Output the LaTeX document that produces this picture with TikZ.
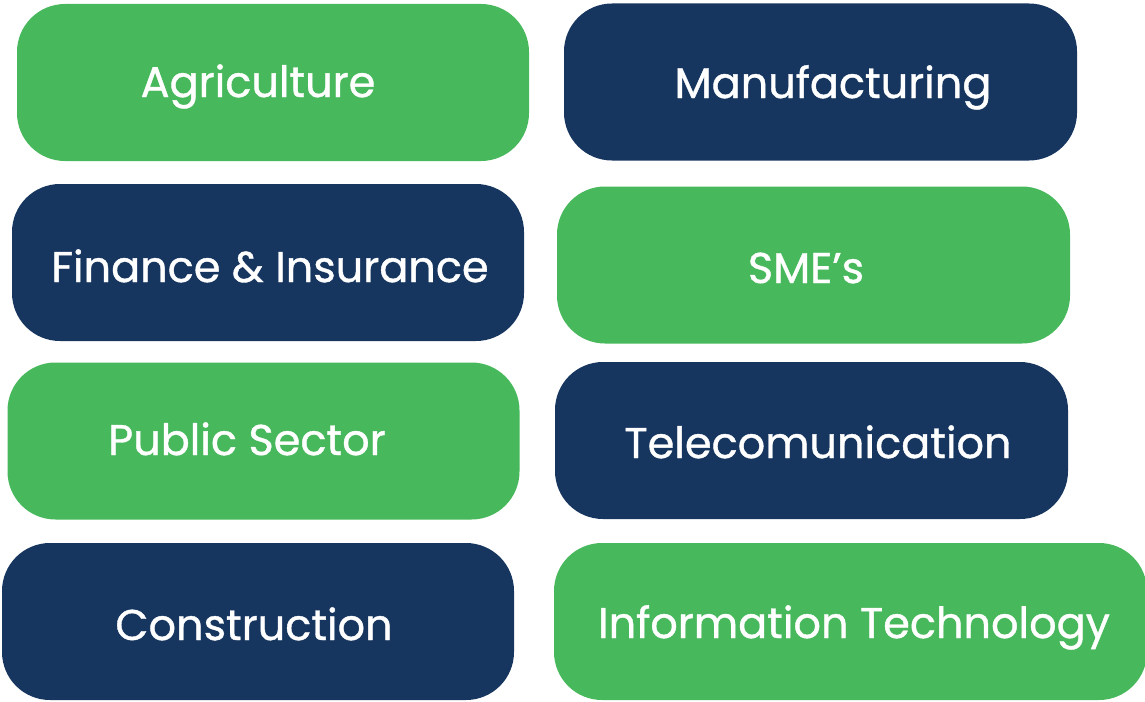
\documentclass[tikz,border=0pt]{standalone}
\usepackage{fontspec}
\setmainfont{Poppins}[FakeBold=0.9]
\usetikzlibrary{positioning}
\definecolor{secgreen}{HTML}{48B85C}
\definecolor{secnavy}{HTML}{17365F}

\begin{document}
\begin{tikzpicture}[x=1pt, y=-1pt, font=\fontsize{43}{50}\selectfont]
	\tikzstyle{tile}=[rectangle, rounded corners=48pt, minimum width=512pt, minimum height=157pt, inner sep=0pt]
	\tikzstyle{gtile}=[tile, fill=secgreen]
	\tikzstyle{ntile}=[tile, fill=secnavy]
	\tikzstyle{lbl}=[text=white, anchor=base, inner sep=0pt]

	\useasboundingbox (0,0) rectangle (1145,701);

	% tiles, left column
	\node[gtile] (agri) at (273,82.5) {};
	\node[ntile] (fin) at (268,262.5) {};
	\node[gtile] (pub) at (263.5,441) {};
	\node[ntile] (con) at (258,621.5) {};
	% tiles, right column
	\node[ntile, minimum width=513pt] (manu) at (820.5,82) {};
	\node[gtile, minimum width=513pt] (sme) at (813.5,265) {};
	\node[ntile, minimum width=513pt] (tel) at (811.5,440.5) {};
	\node[gtile, minimum width=593pt] (it) at (850.5,621.5) {};

	% labels
	\node[lbl] (agrit) at (258,97) {Agriculture};
	\node[lbl] (fint) at (270,282) {Finance \& Insurance};
	\node[lbl] (pubt) at (247,455) {Public Sector};
	\node[lbl] (cont) at (254,640) {Construction};
	\node[lbl] (manut) at (833,98) {Manufacturing};
	\node[lbl] (smet) at (806,283) {SME’s};
	\node[lbl] (telt) at (818,458) {Telecomunication};
	\node[lbl] (itt) at (854,638) {Information Technology};
\end{tikzpicture}
\end{document}
